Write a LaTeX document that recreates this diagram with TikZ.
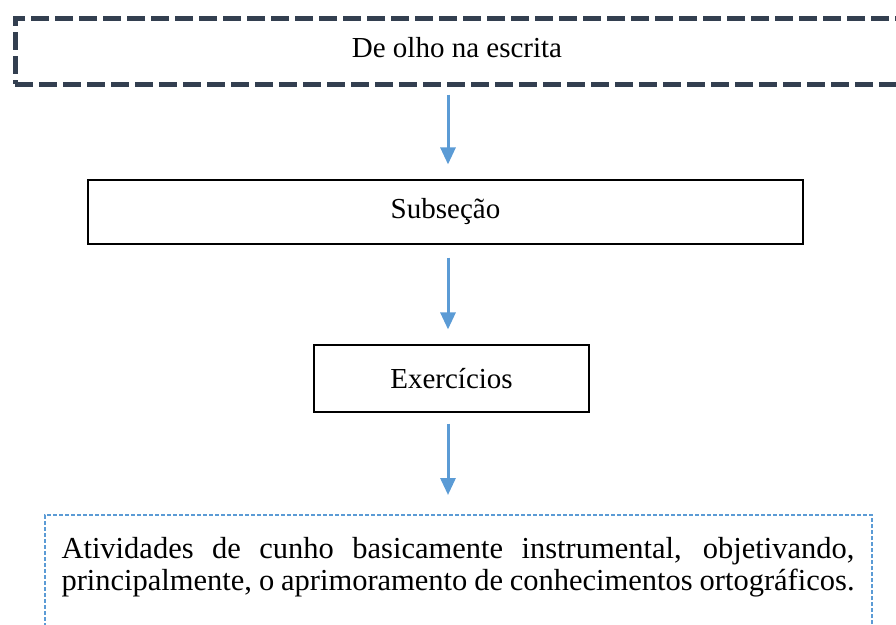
\documentclass[tikz,border=0pt]{standalone}
\usepackage{fontspec}
\setmainfont{Liberation Serif}
\usetikzlibrary{arrows.meta}
\hyphenpenalty=10000
\definecolor{darkslate}{HTML}{333F50}
\definecolor{arrowblue}{HTML}{5B9BD5}
\tikzset{
  titlebox/.style={draw=darkslate, line width=5pt, dash pattern=on 18pt off 6pt,
    minimum width=884pt, minimum height=66pt, inner sep=0pt, text depth=8pt},
  plainbox/.style={draw=black, line width=1.2pt, inner sep=0pt},
  notebox/.style={draw=arrowblue, line width=2pt, dash pattern=on 4pt off 2pt,
    anchor=north, text width=793pt, align=justify, inner xsep=17pt, inner ysep=11pt,
    minimum height=140pt, font=\fontsize{30.5}{32}\selectfont},
  flow/.style={arrowblue, line width=3pt, -{Triangle[width=15pt,length=17pt]}}
}
\begin{document}
\begin{tikzpicture}[x=1pt, y=-1pt, font=\fontsize{29}{33}\selectfont]
		\useasboundingbox (0,0) rectangle (896,624);
		\clip (0,0) rectangle (896,624);
	
		% the boxes
		\node[titlebox] (title) at (457,51) {De olho na escrita};
		\node[plainbox, minimum width=715pt, minimum height=64pt] (sub) at (445.5,212) {Subseção};
		\node[plainbox, minimum width=275pt, minimum height=67pt] (exe) at (451.5,378.5) {Exercícios};
		\node[notebox] (note) at (458,514) {Atividades de cunho basicamente instrumental, objetivando, principalmente, o aprimoramento de conhecimentos ortográficos.\par\strut};
	
		% the axis of the arrows
		\coordinate (axis) at (448,0);
	
		% draw the arrows
		\draw[flow, shorten <=8pt, shorten >=15pt] (title.south -| axis) -- (sub.north -| axis);
		\draw[flow, shorten <=13pt, shorten >=15pt] (sub.south -| axis) -- (exe.north -| axis);
		\draw[flow, shorten <=11pt, shorten >=19pt] (exe.south -| axis) -- (note.north -| axis);
	
	\end{tikzpicture}
\end{document}
